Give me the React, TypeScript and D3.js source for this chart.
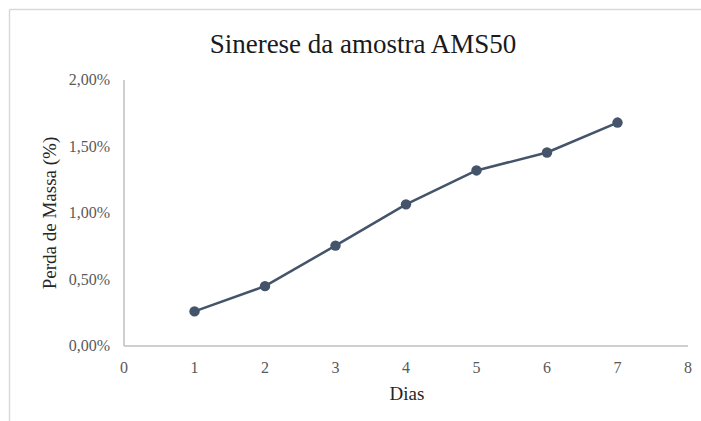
import React from "react";
import * as d3 from "d3";

const days = [1, 2, 3, 4, 5, 6, 7];
const massLoss = [0.26, 0.45, 0.755, 1.065, 1.32, 1.455, 1.68];
const xTicks = [0, 1, 2, 3, 4, 5, 6, 7, 8];
const yTicks = [0, 0.5, 1.0, 1.5, 2.0];
const title = "Sinerese da amostra AMS50";
const xTitle = "Dias";
const yTitle = "Perda de Massa (%)";

const W = 701;
const H = 421;
const M = { left: 124, right: 688, top: 80, bottom: 346 };
const FONT = "'Liberation Serif', 'Times New Roman', serif";

export default function App() {
  const x = d3.scaleLinear().domain([0, 8]).range([M.left, M.right]);
  const y = d3.scaleLinear().domain([0, 2]).range([M.bottom, M.top]);
  const pts = days.map((d, i) => [x(d), y(massLoss[i])] as [number, number]);
  const line = d3.line()(pts) || "";
  const fmt = (v: number) => v.toFixed(2).replace(".", ",") + "%";
  return (
    <svg
      width={W}
      height={H}
      style={{ position: "absolute", left: 0, top: 0, background: "#fff" }}
      fontFamily={FONT}
    >
      <rect x={0} y={0} width={W} height={H} fill="#fff" />
      <line x1={9.5} y1={9.5} x2={W} y2={9.5} stroke="#d9d9d9" strokeWidth={1.5} />
      <line x1={9.5} y1={9.5} x2={9.5} y2={H} stroke="#d9d9d9" strokeWidth={1.5} />
      <text x={363} y={53} textAnchor="middle" fontSize={27} fill="#1a1a1a">
        {title}
      </text>
      <line x1={M.left} y1={M.top} x2={M.left} y2={M.bottom} stroke="#bfbfbf" strokeWidth={1.5} />
      <line x1={M.left} y1={M.bottom} x2={M.right} y2={M.bottom} stroke="#bfbfbf" strokeWidth={1.5} />
      {yTicks.map((t) => (
        <text key={t} x={110} y={y(t) + 5} textAnchor="end" fontSize={16} fill="#595959">
          {fmt(t)}
        </text>
      ))}
      {xTicks.map((t) => (
        <text key={t} x={x(t)} y={373} textAnchor="middle" fontSize={16} fill="#595959">
          {t}
        </text>
      ))}
      <text x={407} y={400} textAnchor="middle" fontSize={19} fill="#262626">
        {xTitle}
      </text>
      <text
        transform={`translate(56, ${(M.top + M.bottom) / 2}) rotate(-90)`}
        textAnchor="middle"
        fontSize={19}
        fill="#262626"
      >
        {yTitle}
      </text>
      <path d={line} fill="none" stroke="#44546a" strokeWidth={2.5} strokeLinejoin="round" />
      {pts.map((p, i) => (
        <circle key={i} cx={p[0]} cy={p[1]} r={5.2} fill="#44546a" />
      ))}
    </svg>
  );
}
